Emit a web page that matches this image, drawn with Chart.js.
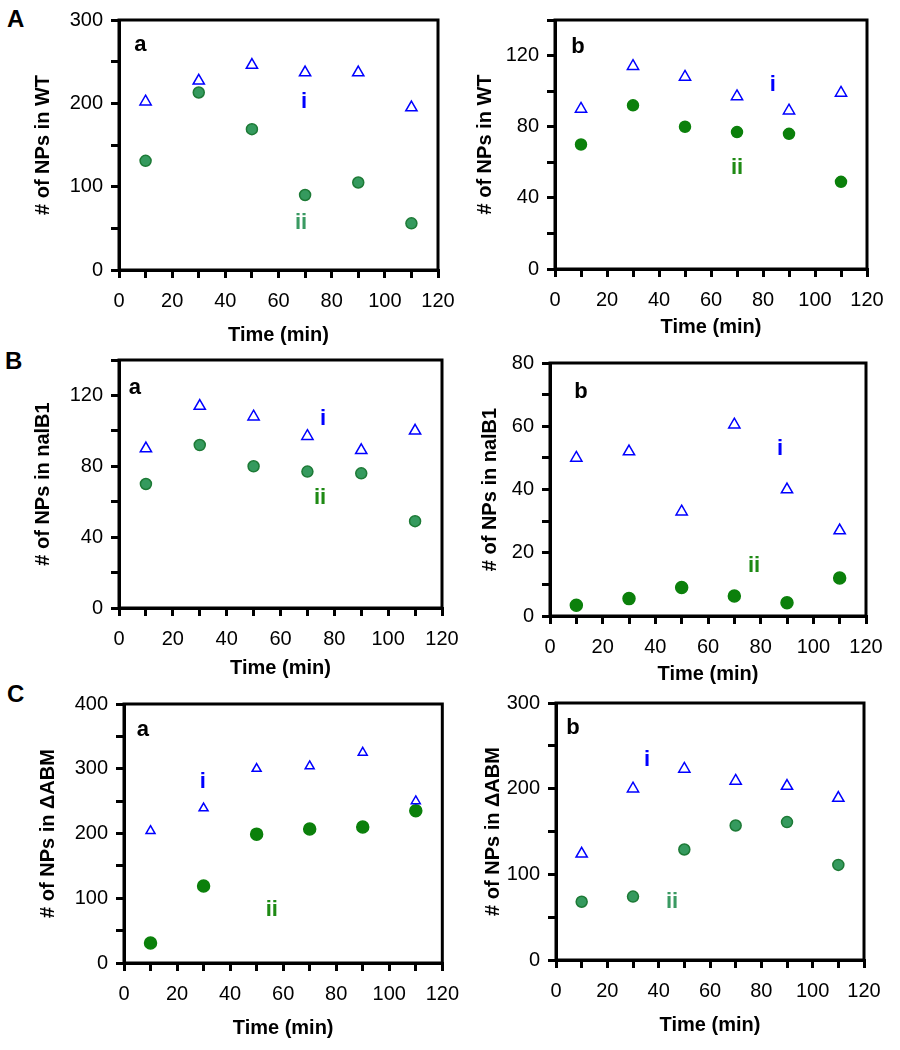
<!DOCTYPE html>
<html>
<head>
<meta charset="utf-8">
<script src="https://cdn.jsdelivr.net/npm/chart.js@4.4.0/dist/chart.umd.min.js"></script>
<style>
body { margin: 0; background: #fff; }
#fig { position: relative; width: 900px; height: 1050px; }
canvas { position: absolute; }
.tag { position: absolute; font: bold 24px 'Liberation Sans', Arial, sans-serif; line-height: 24px; }
</style>
</head>
<body>
<div id="fig">
  <div class="tag" style="left:7px;top:7px">A</div>
  <div class="tag" style="left:5px;top:349px">B</div>
  <div class="tag" style="left:7px;top:682px">C</div>
  <canvas id="Aa" width="470" height="350" style="left:0;top:0"></canvas>
  <canvas id="Ab" width="445" height="350" style="left:455px;top:0"></canvas>
  <canvas id="Ba" width="470" height="350" style="left:0;top:340px"></canvas>
  <canvas id="Bb" width="445" height="350" style="left:455px;top:340px"></canvas>
  <canvas id="Ca" width="470" height="370" style="left:0;top:680px"></canvas>
  <canvas id="Cb" width="445" height="370" style="left:455px;top:680px"></canvas>
</div>
<script>
// sampling times (min)
const time = [10, 30, 50, 70, 90, 110];

// A: wild type
const wtA_i = [202, 227, 246, 237, 237, 195];
const wtA_ii = [131, 213, 169, 90, 105, 56];
const wtB_i = [90, 114, 108, 97, 89, 99];
const wtB_ii = [70, 92, 80, 77, 76, 49];

// B: nalB1
const nalA_i = [90, 114, 108, 97, 89, 100];
const nalA_ii = [70, 92, 80, 77, 76, 49];
const nalB_i = [50, 52, 33, 60.5, 40, 27];
const nalB_ii = [3.4, 5.5, 9, 6.3, 4.2, 12];

// C: deltaABM
const abmA_i = [204, 239, 300, 304, 325, 250];
const abmA_ii = [31, 119, 199, 207, 210, 235];
const abmB_i = [124, 200, 223, 209, 203, 189];
const abmB_ii = [68, 74, 129, 157, 161, 111];

const xTicks = { max: 120, step: 10, label: 20 };

const FONT = "'Liberation Sans', Arial, Helvetica, sans-serif";
Chart.defaults.font.family = FONT;
Chart.defaults.color = '#000';

const BLUE = '#0000ff';
const SEA = { fill: '#359a5e', line: '#1d7a36', text: '#3a9a62' };
const GREEN = { fill: '#0b800b', line: '#0b800b', text: '#1e8a14' };

const pts = ys => ys.map((v, i) => ({ x: time[i], y: v }));

const figPlugin = {
  id: 'fig',
  afterDraw(chart, args, opts) {
    const { ctx, chartArea: a, scales: { x, y } } = chart;
    ctx.save();
    ctx.lineWidth = 3;
    ctx.strokeStyle = '#000';
    ctx.strokeRect(a.left, a.top, a.right - a.left, a.bottom - a.top);
    ctx.textAlign = 'center';
    ctx.textBaseline = 'middle';
    opts.notes.forEach(n => {
      ctx.font = 'bold 22px ' + FONT;
      ctx.fillStyle = n.color;
      ctx.fillText(n.text, x.getPixelForValue(n.x), y.getPixelForValue(n.y));
    });
    ctx.restore();
  }
};

function panel(id, p) {
  const axisGrid = { drawOnChartArea: false, drawTicks: true, tickLength: 8, lineWidth: 3, color: '#000' };
  new Chart(document.getElementById(id), {
    type: 'scatter',
    data: {
      datasets: [
        {
          label: 'i',
          data: pts(p.i),
          pointStyle: 'triangle',
          pointRadius: p.triR || 6.5,
          borderColor: BLUE,
          backgroundColor: '#fff',
          borderWidth: 1.5
        },
        {
          label: 'ii',
          data: pts(p.ii),
          pointStyle: 'circle',
          pointRadius: p.dotR || 5.5,
          borderColor: p.green.line,
          backgroundColor: p.green.fill,
          borderWidth: 1.5
        }
      ]
    },
    options: {
      responsive: false,
      animation: false,
      events: [],
      layout: { padding: p.pad },
      plugins: {
        legend: { display: false },
        tooltip: { enabled: false },
        fig: { notes: p.notes }
      },
      scales: {
        x: {
          min: 0, max: xTicks.max,
          afterFit: s => { s.height = p.xh; },
          grid: axisGrid,
          border: { display: true, width: 3, color: '#000' },
          ticks: {
            stepSize: xTicks.step, padding: 11, maxRotation: 0, autoSkip: false,
            font: { size: 20 },
            callback: v => (v % xTicks.label === 0 ? v : '')
          },
          title: { display: true, text: 'Time (min)', font: { size: 20, weight: 'bold' }, padding: 0 }
        },
        y: {
          min: 0, max: p.yMax,
          afterFit: s => { s.width = p.yw; },
          grid: axisGrid,
          border: { display: true, width: 3, color: '#000' },
          ticks: {
            stepSize: p.yStep, padding: 8, autoSkip: false,
            font: { size: 20 },
            callback: v => (v % p.yLabel === 0 ? v : '')
          },
          title: { display: true, text: p.yTitle, font: { size: 20, weight: 'bold' }, padding: 0 }
        }
      }
    },
    plugins: [figPlugin]
  });
}

panel('Aa', {
  i: wtA_i, ii: wtA_ii, green: SEA,
  yMax: 300, yStep: 50, yLabel: 100, yTitle: '# of NPs in WT',
  yw: 88, xh: 77, pad: { left: 31, top: 18, right: 32, bottom: 3 },
  notes: [
    { text: 'a', x: 8, y: 270, color: '#000' },
    { text: 'i', x: 69.6, y: 202, color: BLUE },
    { text: 'ii', x: 68.5, y: 57, color: SEA.text }
  ]
});

panel('Ab', {
  i: wtB_i, ii: wtB_ii, green: GREEN,
  yMax: 140, yStep: 20, yLabel: 40, yTitle: '# of NPs in WT',
  yw: 82, xh: 70, pad: { left: 18, top: 18, right: 33, bottom: 11 },
  notes: [
    { text: 'b', x: 8.8, y: 125, color: '#000' },
    { text: 'i', x: 83.8, y: 103.7, color: BLUE },
    { text: 'ii', x: 70, y: 57, color: GREEN.text }
  ]
});

panel('Ba', {
  i: nalA_i, ii: nalA_ii, green: SEA,
  yMax: 140, yStep: 20, yLabel: 40, yTitle: '# of NPs in nalB1',
  yw: 88, xh: 72, pad: { left: 31, top: 19, right: 28, bottom: 10 },
  notes: [
    { text: 'a', x: 5.9, y: 124, color: '#000' },
    { text: 'i', x: 75.8, y: 107, color: BLUE },
    { text: 'ii', x: 74.7, y: 62, color: GREEN.text }
  ]
});

panel('Bb', {
  i: nalB_i, ii: nalB_ii, green: GREEN, dotR: 6,
  yMax: 80, yStep: 10, yLabel: 20, yTitle: '# of NPs in nalB1',
  yw: 72, xh: 70, pad: { left: 23, top: 23, right: 34, bottom: 4 },
  notes: [
    { text: 'b', x: 11.8, y: 70.8, color: '#000' },
    { text: 'i', x: 87.4, y: 52.8, color: BLUE },
    { text: 'ii', x: 77.5, y: 15.8, color: GREEN.text }
  ]
});

panel('Ca', {
  i: abmA_i, ii: abmA_ii, green: GREEN, dotR: 6, triR: 5.2,
  yMax: 400, yStep: 50, yLabel: 100, yTitle: '# of NPs in \u0394ABM',
  yw: 88, xh: 77, pad: { left: 36, top: 24, right: 27, bottom: 10 },
  notes: [
    { text: 'a', x: 7.1, y: 360, color: '#000' },
    { text: 'i', x: 29.7, y: 280, color: BLUE },
    { text: 'ii', x: 55.7, y: 82, color: GREEN.text }
  ]
});

panel('Cb', {
  i: abmB_i, ii: abmB_ii, green: SEA,
  yMax: 300, yStep: 50, yLabel: 100, yTitle: '# of NPs in \u0394ABM',
  yw: 75, xh: 77, pad: { left: 26, top: 23, right: 36, bottom: 13 },
  notes: [
    { text: 'b', x: 6.6, y: 271, color: '#000' },
    { text: 'i', x: 35.5, y: 233, color: BLUE },
    { text: 'ii', x: 45.2, y: 68, color: SEA.text }
  ]
});
</script>
</body>
</html>
